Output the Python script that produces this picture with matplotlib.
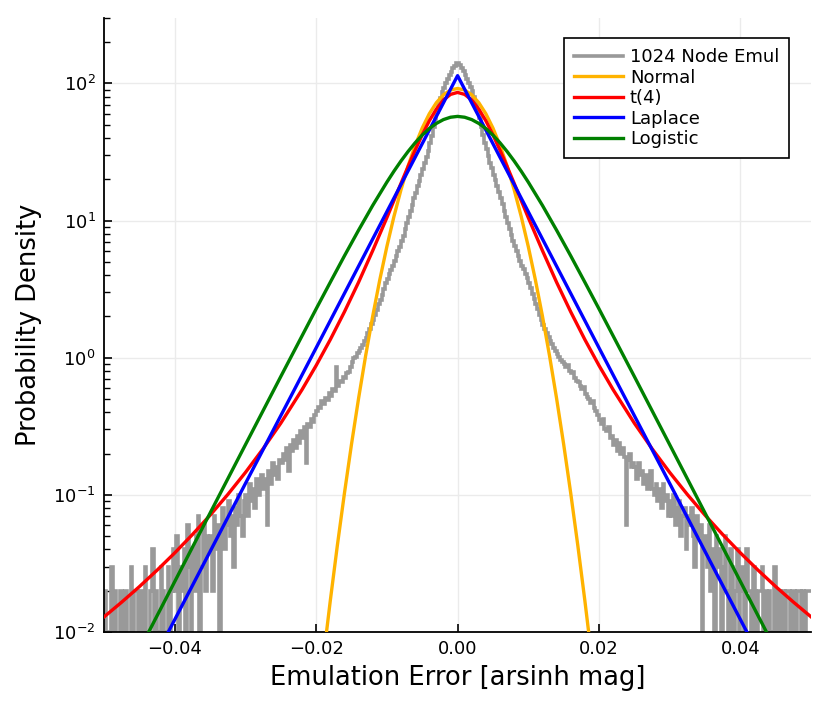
import numpy as np
import matplotlib
matplotlib.use("Agg")
import matplotlib.pyplot as plt
from matplotlib.ticker import LogLocator, FixedLocator, FixedFormatter

# histogram of emulation errors, bin width 0.00025
bin_width = 0.00025
hist_left = [  # x from -0.05 to 0, 20 bins per row
    0.02, 0, 0, 0.01, 0.03, 0, 0.02, 0, 0, 0.02, 0, 0.01, 0.02, 0, 0, 0.03, 0, 0.02, 0.02, 0.01,
    0, 0.02, 0, 0.03, 0.01, 0, 0.02, 0.04, 0, 0.02, 0.01, 0, 0.03, 0.02, 0, 0.01, 0.03, 0, 0.02, 0.04,
    0.02, 0.05, 0, 0.03, 0.02, 0.04, 0.01, 0.06, 0.03, 0, 0.04, 0.02, 0.05, 0.07, 0.01, 0.03, 0.06, 0.02, 0.05, 0.04,
    0.05, 0.02, 0.07, 0.04, 0.06, 0.01, 0.05, 0.08, 0.04, 0.06, 0.09, 0.05, 0.07, 0.03, 0.08, 0.06, 0.10, 0.07, 0.05, 0.09,
    0.10, 0.07, 0.12, 0.09, 0.11, 0.08, 0.13, 0.10, 0.12, 0.14, 0.11, 0.13, 0.06, 0.15, 0.12, 0.17, 0.14, 0.16, 0.13, 0.18,
    0.17, 0.20, 0.18, 0.22, 0.15, 0.23, 0.21, 0.25, 0.22, 0.27, 0.24, 0.29, 0.26, 0.31, 0.17, 0.33, 0.31, 0.36, 0.34, 0.38,
    0.41, 0.44, 0.43, 0.48, 0.46, 0.51, 0.49, 0.55, 0.53, 0.59, 0.57, 0.85, 0.62, 0.68, 0.67, 0.72, 0.71, 0.77, 0.79, 0.86,
    0.93, 0.99, 1.01, 1.08, 1.11, 1.18, 1.23, 1.33, 1.40, 1.52, 1.61, 1.75, 1.87, 2.05, 2.23, 2.46, 2.65, 2.89, 3.15, 3.48,
    3.76, 4.07, 4.37, 4.68, 5.07, 5.50, 5.96, 6.46, 7.08, 7.76, 8.61, 9.55, 10.6, 11.7, 13.0, 14.5, 16.0, 17.8, 19.5, 21.4,
    23.7, 26.3, 29.2, 32.4, 36.7, 41.7, 47.9, 55.0, 62.4, 70.8, 78.5, 87.1, 93.3, 100., 107., 115., 122., 129., 135., 140.,
]
hist_right = [  # x from 0 to 0.05, 20 bins per row
    140., 136., 130., 123., 116., 108., 101., 94.0, 88.0, 79.0, 71.0, 63.0, 56.0, 48.5, 42.0, 37.0, 33.0, 29.5, 26.5, 24.0,
    21.6, 19.6, 18.0, 16.2, 14.6, 13.1, 11.8, 10.7, 9.60, 8.70, 7.80, 7.10, 6.50, 6.00, 5.50, 5.10, 4.70, 4.40, 4.10, 3.80,
    3.50, 3.20, 2.90, 2.70, 2.45, 2.25, 2.05, 1.88, 1.74, 1.62, 1.52, 1.42, 1.33, 1.26, 1.18, 1.12, 1.06, 1.01, 0.97, 0.93,
    0.90, 0.86, 0.88, 0.80, 0.77, 0.79, 0.71, 0.68, 0.66, 0.62, 0.59, 0.61, 0.54, 0.52, 0.50, 0.47, 0.48, 0.43, 0.41, 0.38,
    0.35, 0.33, 0.36, 0.30, 0.29, 0.31, 0.26, 0.27, 0.23, 0.25, 0.21, 0.24, 0.20, 0.22, 0.19, 0.06, 0.18, 0.20, 0.16, 0.17,
    0.16, 0.13, 0.17, 0.14, 0.15, 0.12, 0.14, 0.11, 0.13, 0.15, 0.11, 0.10, 0.12, 0.09, 0.11, 0.08, 0.12, 0.09, 0.10, 0.07,
    0.09, 0.07, 0.10, 0.06, 0.08, 0.09, 0.05, 0.07, 0.08, 0.04, 0.07, 0.06, 0.08, 0.05, 0.03, 0.07, 0.05, 0.06, 0.01, 0.04,
    0.05, 0.03, 0.06, 0.02, 0.04, 0, 0.05, 0.03, 0.04, 0.01, 0.03, 0.05, 0.02, 0, 0.04, 0.03, 0.01, 0.02, 0.04, 0,
    0.02, 0.03, 0, 0.04, 0.02, 0.02, 0, 0.03, 0.02, 0, 0.02, 0.02, 0.03, 0, 0.02, 0, 0.02, 0.01, 0, 0.03,
    0, 0.02, 0.02, 0, 0.02, 0, 0.02, 0.02, 0, 0.02, 0.02, 0, 0.02, 0.02, 0.01, 0.02, 0, 0.02, 0.02, 0.02,
]

# fitted densities (x >= 0 half, symmetric about 0)
norm_x = [0, .001, .002, .003, .004, .005, .006, .007, .008, .009, .010,
          .011, .012, .013, .014, .015, .016, .017, .018, .019, .020]
norm_y = [91.9, 89.5, 82.6, 72.4, 60.1, 47.3, 35.3, 25.0, 16.8, 10.7, 6.46,
          3.70, 2.01, 1.035, 0.505, 0.234, 0.1027, 0.0428, 0.0169, 0.00633, 0.00225]

t4_x = [0, .001, .002, .003, .004, .005, .006, .007, .008, .009, .010,
        .012, .014, .016, .018, .020, .022, .025, .0275, .030, .0325,
        .035, .0375, .040, .0425, .045, .0475, .050]
t4_y = [86.0, 83.2, 75.7, 65.0, 53.4, 42.2, 32.6, 24.8, 18.7, 14.0, 10.5,
        6.04, 3.55, 2.16, 1.355, 0.877, 0.584, 0.333, 0.217, 0.1456, 0.1005,
        0.0710, 0.0513, 0.0377, 0.0282, 0.0214, 0.0165, 0.01287]

lap_x = [0, .01, .02, .03, .04, .05]
lap_y = [114., 11.6, 1.18, 0.121, 0.0123, 0.00126]

logi_x = [0, .001, .002, .003, .004, .005, .006, .007, .008, .009, .010,
          .012, .014, .016, .018, .020, .025, .030, .035, .040, .045, .050]
logi_y = [57.5, 56.7, 54.5, 51.1, 46.9, 42.0, 36.9, 31.9, 27.2, 22.9, 19.06,
          12.9, 8.51, 5.53, 3.55, 2.27, 0.729, 0.232, 0.0736, 0.0233, 0.00738, 0.00234]


def mirror(xs, ys):
    xs = np.asarray(xs)
    ys = np.asarray(ys)
    return np.concatenate([-xs[::-1], xs[1:]]), np.concatenate([ys[::-1], ys[1:]])


plt.rcParams['font.family'] = ['DejaVu Sans']
plt.rcParams['mathtext.fontset'] = 'dejavusans'

fig = plt.figure(figsize=(8.3, 7.12), dpi=100)
ax = fig.add_axes([0.1253, 0.1124, 0.852, 0.8623])

hist = np.clip(np.array(hist_left + hist_right), 1e-4, None)
edges = -0.05 + bin_width * np.arange(len(hist) + 1)
ax.stairs(hist, edges, baseline=None, color='#999999', lw=2.6,
          label='1024 Node Emul', zorder=2)

for xs, ys, col, name in [(norm_x, norm_y, '#FFB300', 'Normal'),
                          (t4_x, t4_y, '#FF0000', 't(4)'),
                          (lap_x, lap_y, '#0000FF', 'Laplace'),
                          (logi_x, logi_y, '#008000', 'Logistic')]:
    mx, my = mirror(xs, ys)
    ax.plot(mx, my, color=col, lw=2.4, label=name, zorder=3)

ax.set_yscale('log')
ax.set_xlim(-0.05, 0.05)
ax.set_ylim(0.01, 300)

ax.xaxis.set_major_locator(FixedLocator([-0.04, -0.02, 0.0, 0.02, 0.04]))
ax.xaxis.set_major_formatter(FixedFormatter(['\u22120.04', '\u22120.02', '0.00', '0.02', '0.04']))
ax.yaxis.set_major_locator(LogLocator(base=10, numticks=10))
ax.yaxis.set_minor_locator(LogLocator(base=10, subs=np.arange(2, 10), numticks=20))

ax.grid(True, which='major', color='#ebebeb', lw=1.0, zorder=0)
for s in ['top', 'right']:
    ax.spines[s].set_visible(False)
for s in ['left', 'bottom']:
    ax.spines[s].set_linewidth(1.3)
ax.tick_params(axis='both', which='major', direction='in', length=6, width=1.2,
               labelsize=13, pad=6)
ax.tick_params(axis='y', which='minor', direction='in', length=4, width=1.0)
ax.tick_params(axis='x', which='minor', bottom=False)

ax.set_xlabel('Emulation Error [arsinh mag]', fontsize=18.5, labelpad=5)
ax.set_ylabel('Probability Density', fontsize=18.5, labelpad=8)

leg = ax.legend(loc='upper right', bbox_to_anchor=(0.969, 0.967), fontsize=13,
                frameon=True, fancybox=False, framealpha=1, edgecolor='black',
                borderaxespad=0, handlelength=2.7, handletextpad=0.4,
                labelspacing=0.14, borderpad=0.55)
leg.get_frame().set_linewidth(1.2)

fig.savefig('out.png', dpi=100)
